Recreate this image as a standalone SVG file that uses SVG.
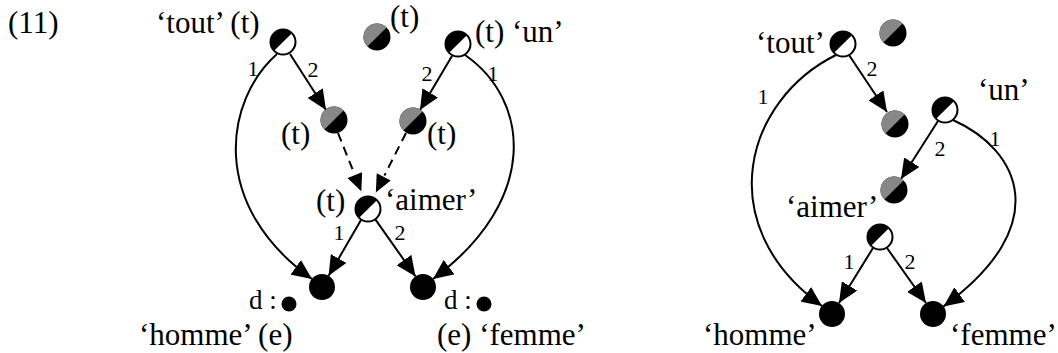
<svg xmlns="http://www.w3.org/2000/svg" width="1058" height="353" viewBox="0 0 1058 353">
<style>
text{font-family:"Liberation Serif","Times New Roman",serif;fill:#000}
.lb{font-size:31px}
.ds{font-size:27px}
.nm{font-size:22px;text-anchor:middle}
.e{fill:none;stroke:#000;stroke-width:2}
.sa{marker-end:url(#ah)}
.da{stroke-dasharray:9 6;marker-end:url(#ahw)}
</style>
<defs>
<marker id="ah" markerUnits="userSpaceOnUse" viewBox="0 0 20 18" refX="20" refY="9" markerWidth="20" markerHeight="18" orient="auto"><path d="M0,0 L20,9 L0,18 Z" fill="#000"/></marker>
<marker id="ahw" markerUnits="userSpaceOnUse" viewBox="-2 -2 24 22" refX="20" refY="9" markerWidth="24" markerHeight="22" orient="auto"><path d="M0,0 L20,9 L0,18 Z" fill="#000" stroke="#fff" stroke-width="1.5"/></marker>
<g id="bw"><circle r="12.5" fill="#fff" stroke="#000" stroke-width="2"/><path d="M-8.84,8.84 A12.5 12.5 0 0 1 8.84,-8.84 Z" fill="#000"/></g>
<g id="gb"><circle r="13.5" fill="#000"/><path d="M-9.55,9.55 A13.5 13.5 0 0 1 9.55,-9.55 Z" fill="#878787"/></g>
<g id="bk"><circle r="13" fill="#000"/></g>
</defs>

<text class="lb" x="8" y="33">(11)</text>

<g id="connectors">
<path class="e sa" d="M277,54 C225,100 208,205 312,279"/>
<path class="e sa" d="M465,55 C530,100 540,200 433,279"/>
<line class="e sa" x1="290" y1="54" x2="326" y2="110"/>
<line class="e sa" x1="452" y1="56" x2="420" y2="110"/>
<path class="e da" d="M338,133 L362,193"/>
<path class="e da" d="M406,133 L375,194"/>
<line class="e sa" x1="361" y1="220" x2="328.6" y2="275.8"/>
<line class="e sa" x1="375.5" y1="219.6" x2="415.5" y2="276.4"/>

<path class="e sa" d="M836,55 C745,100 710,225 822,306"/>
<path class="e sa" d="M953,120 C1020,150 1055,225 943.5,306.4"/>
<line class="e sa" x1="849" y1="55" x2="887" y2="112"/>
<line class="e sa" x1="938" y1="121" x2="901" y2="179"/>
<line class="e sa" x1="873" y1="248" x2="839" y2="303"/>
<line class="e sa" x1="887" y1="248" x2="926" y2="303"/>
</g>

<g id="edge-labels">
<text class="nm" x="253" y="76">1</text>
<text class="nm" x="313" y="77">2</text>
<text class="nm" x="427" y="81">2</text>
<text class="nm" x="493" y="81">1</text>
<text class="nm" x="339" y="240">1</text>
<text class="nm" x="400" y="240">2</text>
<text class="nm" x="763" y="104">1</text>
<text class="nm" x="872" y="76">2</text>
<text class="nm" x="940" y="156">2</text>
<text class="nm" x="995" y="146">1</text>
<text class="nm" x="849" y="269">1</text>
<text class="nm" x="910" y="269">2</text>
</g>

<g id="L-tout"><use href="#bw" x="283" y="42"/><text class="lb" x="156" y="33">‘tout’ (t)</text></g>
<g id="L-top-gray"><use href="#gb" x="377" y="37"/><text class="lb" x="390" y="27">(t)</text></g>
<g id="L-un"><use href="#bw" x="458" y="44"/><text class="lb" x="475" y="42">(t) ‘un’</text></g>
<g id="L-gray-left"><use href="#gb" x="334" y="120"/><text class="lb" x="281" y="144">(t)</text></g>
<g id="L-gray-right"><use href="#gb" x="413" y="121"/><text class="lb" x="427" y="144">(t)</text></g>
<g id="L-aimer"><use href="#bw" x="368" y="209"/><text class="lb" x="316" y="211">(t)</text><text class="lb" x="385" y="210">‘aimer’</text></g>
<g id="L-homme"><use href="#bk" x="322" y="287"/><text class="ds" x="249" y="309">d :</text><circle cx="289" cy="304" r="7.5"/><text class="lb" x="139" y="345">‘homme’ (e)</text></g>
<g id="L-femme"><use href="#bk" x="423" y="287"/><text class="ds" x="444" y="309">d :</text><circle cx="484" cy="304" r="7.5"/><text class="lb" x="437" y="345">(e) ‘femme’</text></g>

<g id="R-tout"><use href="#bw" x="843" y="44"/><text class="lb" x="756" y="53">‘tout’</text></g>
<g id="R-top-gray"><use href="#gb" x="893" y="33"/></g>
<g id="R-gray-1"><use href="#gb" x="895" y="124"/></g>
<g id="R-un"><use href="#bw" x="945" y="110"/><text class="lb" x="978" y="100">‘un’</text></g>
<g id="R-gray-2"><use href="#gb" x="894" y="190"/></g>
<g id="R-aimer"><use href="#bw" x="880" y="237"/><text class="lb" x="786" y="217">‘aimer’</text></g>
<g id="R-homme"><use href="#bk" x="832" y="314"/><text class="lb" x="703" y="345">‘homme’</text></g>
<g id="R-femme"><use href="#bk" x="933" y="314"/><text class="lb" x="950" y="345">‘femme’</text></g>
</svg>
